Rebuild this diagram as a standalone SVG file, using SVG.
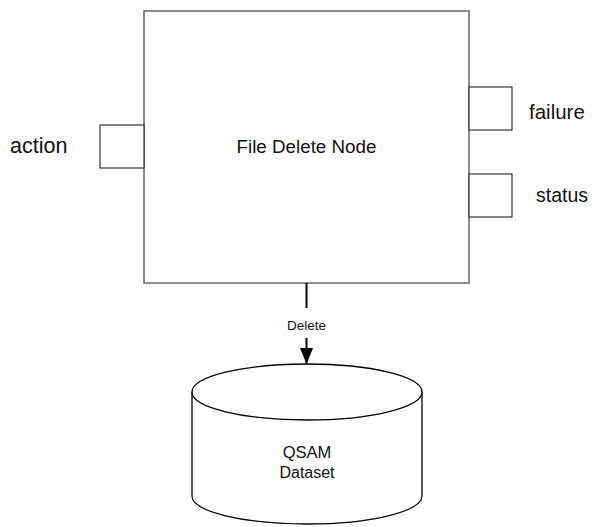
<svg xmlns="http://www.w3.org/2000/svg" width="598" height="527" viewBox="0 0 598 527">
<defs>
<style>
.box{fill:#fff;stroke:#666;stroke-width:1.5}
.port{fill:#fff;stroke:#333;stroke-width:1.2}
.t{font-family:"Liberation Sans",Arial,sans-serif;fill:#111}
.conn{stroke:#000;stroke-width:2;fill:none}
.cyl{fill:#fff;stroke:#000;stroke-width:1.3}
</style>
<marker id="ah" viewBox="0 0 16 13" refX="16" refY="6.5" markerWidth="16" markerHeight="13" markerUnits="userSpaceOnUse" orient="auto">
<path d="M0,0 L16,6.5 L0,13 Z" fill="#000"/>
</marker>
</defs>
<rect width="598" height="527" fill="#fff"/>
<g id="node-file-delete">
<rect class="box" x="144" y="11" width="325" height="272"/>
<text class="t" x="306.5" y="153" font-size="18.8" text-anchor="middle">File Delete Node</text>
</g>
<g id="port-action">
<rect class="port" x="100" y="125" width="44" height="43"/>
<text class="t" x="10" y="153" font-size="21.5">action</text>
</g>
<g id="port-failure">
<rect class="port" x="469" y="87" width="43" height="43"/>
<text class="t" x="529" y="119" font-size="20.5">failure</text>
</g>
<g id="port-status">
<rect class="port" x="469" y="174" width="43" height="43"/>
<text class="t" x="536" y="202" font-size="19.5">status</text>
</g>
<g id="node-qsam">
<path class="cyl" d="M192,392 L192,496 A115,28 0 0 0 422,496 L422,392"/>
<ellipse class="cyl" cx="307" cy="392" rx="115" ry="28"/>
<text class="t" x="307" y="458" font-size="16.5" text-anchor="middle">QSAM</text>
<text class="t" x="307" y="478" font-size="16" text-anchor="middle">Dataset</text>
</g>
<g id="connectors">
<line class="conn" x1="306.5" y1="283" x2="306.5" y2="308"/>
<line class="conn" x1="306.5" y1="338" x2="306.5" y2="364" marker-end="url(#ah)"/>
<text class="t" x="306.5" y="330" font-size="13.5" text-anchor="middle">Delete</text>
</g>
</svg>
